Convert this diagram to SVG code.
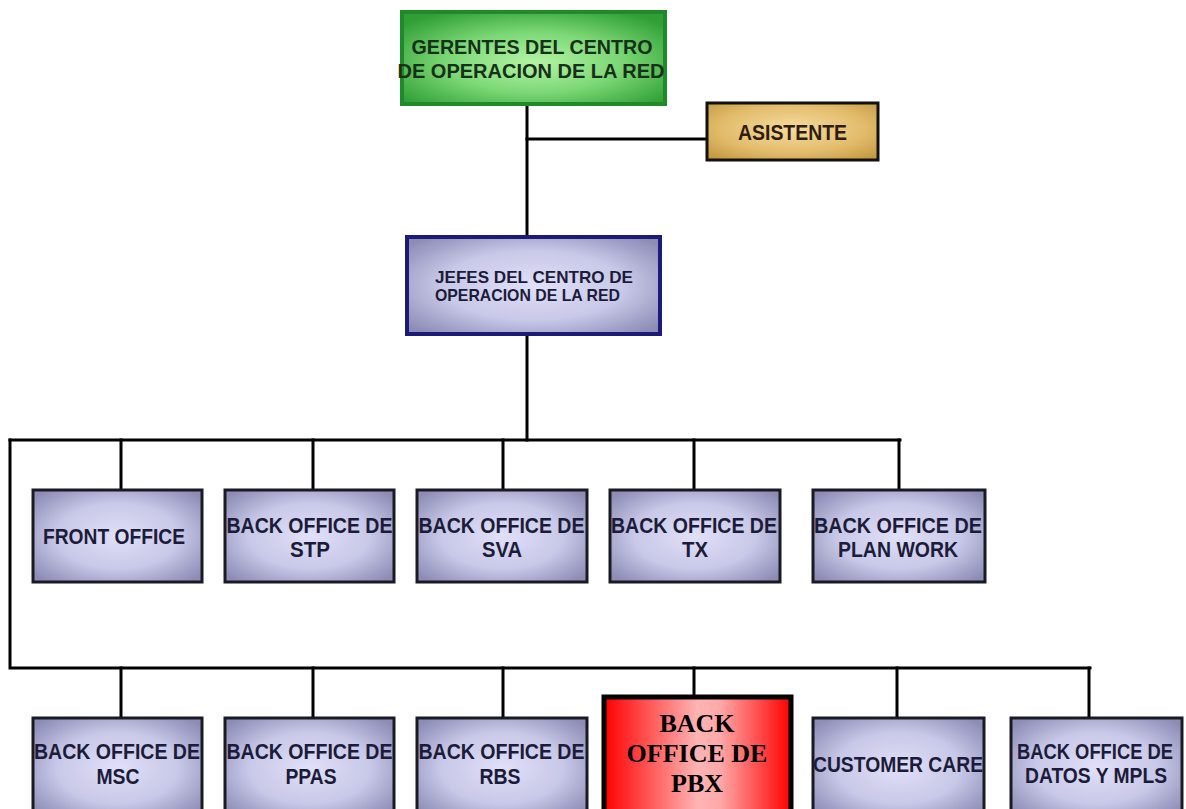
<svg xmlns="http://www.w3.org/2000/svg" width="1186" height="809" viewBox="0 0 1186 809">
  <defs>
    <radialGradient id="gLav" cx="50%" cy="50%" r="65%">
      <stop offset="0" stop-color="#e0e0f8"/>
      <stop offset="0.55" stop-color="#c8c8e8"/>
      <stop offset="1" stop-color="#8c8cb6"/>
    </radialGradient>
    <radialGradient id="gGreen" cx="50%" cy="55%" r="65%">
      <stop offset="0" stop-color="#b4f4a4"/>
      <stop offset="0.5" stop-color="#7cd876"/>
      <stop offset="1" stop-color="#2f9e34"/>
    </radialGradient>
    <radialGradient id="gGold" cx="50%" cy="45%" r="70%">
      <stop offset="0" stop-color="#f4dc9c"/>
      <stop offset="0.6" stop-color="#e2bc6c"/>
      <stop offset="1" stop-color="#c4973f"/>
    </radialGradient>
    <linearGradient id="gRed" x1="0" y1="0" x2="1" y2="0">
      <stop offset="0" stop-color="#ff0000"/>
      <stop offset="0.5" stop-color="#ffb4b4"/>
      <stop offset="0.62" stop-color="#ffa8a8"/>
      <stop offset="1" stop-color="#ff0000"/>
    </linearGradient>
  </defs>
  <style>
    .lav { fill: url(#gLav); stroke: #1a1a22; stroke-width: 3; }
    .lbl { font-family: "Liberation Sans", Arial, sans-serif; font-weight: bold; font-size: 22px; fill: #1c1c3a; text-anchor: middle; }
    .conn { stroke: #000; stroke-width: 3; fill: none; stroke-linecap: square; }
    .pbx { font-family: "Liberation Serif", "Times New Roman", serif; font-weight: bold; font-size: 26px; fill: #000; text-anchor: middle; }
  </style>

  <rect width="1186" height="809" fill="#ffffff"/>

  <!-- connectors -->
  <g id="connectors" class="conn">
    <path d="M527 106 V235"/>
    <path d="M527 139 H706"/>
    <path d="M527 336 V440"/>
    <path d="M10 440 H900"/>
    <path d="M121 440 V490 M313 440 V490 M503 440 V490 M694 440 V490 M899 440 V490"/>
    <path d="M10 440 V668 H1090"/>
    <path d="M121 668 V718 M313 668 V718 M503 668 V718 M694 668 V695 M897 668 V718 M1089 668 V718"/>
  </g>

  <!-- top management -->
  <g id="gerentes">
    <rect x="402" y="12" width="263" height="92" fill="url(#gGreen)" stroke="#1e8a2a" stroke-width="4"/>
    <text class="lbl" x="532" y="54" style="fill:#16301a;font-size:21px" textLength="241" lengthAdjust="spacingAndGlyphs">GERENTES DEL CENTRO</text>
    <text class="lbl" x="531" y="78" style="fill:#16301a;font-size:21px" textLength="267" lengthAdjust="spacingAndGlyphs">DE OPERACION DE LA RED</text>
  </g>

  <g id="asistente">
    <rect x="707" y="103" width="171" height="57" fill="url(#gGold)" stroke="#111" stroke-width="3"/>
    <text class="lbl" x="792.5" y="140" style="fill:#301c10" textLength="109" lengthAdjust="spacingAndGlyphs">ASISTENTE</text>
  </g>

  <g id="jefes">
    <rect x="407" y="237" width="253" height="97" fill="url(#gLav)" stroke="#1c1c78" stroke-width="4"/>
    <text class="lbl" x="435" y="283" style="font-size:17px;text-anchor:start" textLength="198" lengthAdjust="spacingAndGlyphs">JEFES DEL CENTRO DE</text>
    <text class="lbl" x="435" y="301" style="font-size:17px;text-anchor:start" textLength="185" lengthAdjust="spacingAndGlyphs">OPERACION DE LA RED</text>
  </g>

  <!-- first row -->
  <g id="front-office">
    <rect class="lav" x="33" y="490" width="169" height="92"/>
    <text class="lbl" x="114" y="544" textLength="142" lengthAdjust="spacingAndGlyphs">FRONT OFFICE</text>
  </g>
  <g id="bo-stp">
    <rect class="lav" x="225" y="490" width="169" height="92"/>
    <text class="lbl" x="309.5" y="533" textLength="166" lengthAdjust="spacingAndGlyphs">BACK OFFICE DE</text>
    <text class="lbl" x="310" y="557" textLength="40" lengthAdjust="spacingAndGlyphs">STP</text>
  </g>
  <g id="bo-sva">
    <rect class="lav" x="417" y="490" width="170" height="92"/>
    <text class="lbl" x="501.5" y="533" textLength="166" lengthAdjust="spacingAndGlyphs">BACK OFFICE DE</text>
    <text class="lbl" x="502" y="557" textLength="40" lengthAdjust="spacingAndGlyphs">SVA</text>
  </g>
  <g id="bo-tx">
    <rect class="lav" x="610" y="490" width="170" height="92"/>
    <text class="lbl" x="694" y="533" textLength="166" lengthAdjust="spacingAndGlyphs">BACK OFFICE DE</text>
    <text class="lbl" x="695" y="557" textLength="26" lengthAdjust="spacingAndGlyphs">TX</text>
  </g>
  <g id="bo-plan-work">
    <rect class="lav" x="813" y="490" width="172" height="92"/>
    <text class="lbl" x="898" y="533" textLength="168" lengthAdjust="spacingAndGlyphs">BACK OFFICE DE</text>
    <text class="lbl" x="898" y="557" textLength="120" lengthAdjust="spacingAndGlyphs">PLAN WORK</text>
  </g>

  <!-- second row -->
  <g id="bo-msc">
    <rect class="lav" x="33" y="718" width="169" height="100"/>
    <text class="lbl" x="117" y="759" textLength="166" lengthAdjust="spacingAndGlyphs">BACK OFFICE DE</text>
    <text class="lbl" x="118" y="784" textLength="43" lengthAdjust="spacingAndGlyphs">MSC</text>
  </g>
  <g id="bo-ppas">
    <rect class="lav" x="225" y="718" width="169" height="100"/>
    <text class="lbl" x="309.5" y="759" textLength="166" lengthAdjust="spacingAndGlyphs">BACK OFFICE DE</text>
    <text class="lbl" x="311" y="784" textLength="51" lengthAdjust="spacingAndGlyphs">PPAS</text>
  </g>
  <g id="bo-rbs">
    <rect class="lav" x="417" y="718" width="170" height="100"/>
    <text class="lbl" x="501.5" y="759" textLength="166" lengthAdjust="spacingAndGlyphs">BACK OFFICE DE</text>
    <text class="lbl" x="500" y="784" textLength="41" lengthAdjust="spacingAndGlyphs">RBS</text>
  </g>
  <g id="bo-pbx">
    <rect x="604" y="697" width="187" height="125" fill="url(#gRed)" stroke="#000" stroke-width="5"/>
    <text class="pbx" x="697" y="732">BACK</text>
    <text class="pbx" x="697" y="762">OFFICE DE</text>
    <text class="pbx" x="697" y="792">PBX</text>
  </g>
  <g id="customer-care">
    <rect class="lav" x="813" y="718" width="171" height="100"/>
    <text class="lbl" x="898" y="772" textLength="170" lengthAdjust="spacingAndGlyphs">CUSTOMER CARE</text>
  </g>
  <g id="bo-datos-mpls">
    <rect class="lav" x="1011" y="718" width="171" height="100"/>
    <text class="lbl" x="1095" y="759" textLength="156" lengthAdjust="spacingAndGlyphs">BACK OFFICE DE</text>
    <text class="lbl" x="1096" y="783" textLength="142" lengthAdjust="spacingAndGlyphs">DATOS Y MPLS</text>
  </g>
</svg>
